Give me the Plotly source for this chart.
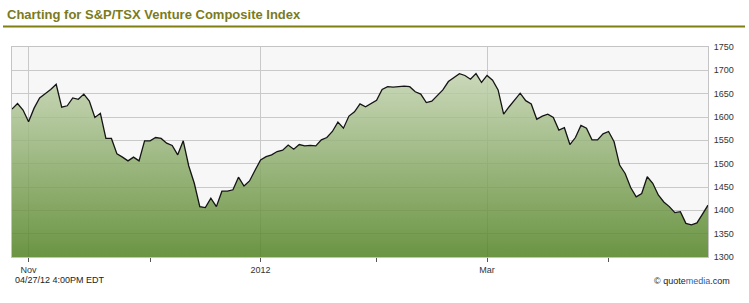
import pandas as pd
import plotly.graph_objects as go

# ---- data ----
holidays = ['2011-12-26', '2011-12-27', '2012-01-02', '2012-02-20', '2012-04-06']
dates = pd.bdate_range('2011-10-27', '2012-04-27', freq='C', holidays=holidays)

closes = [
    1617, 1629, 1615, 1590, 1619, 1641, 1650, 1659, 1670, 1621,
    1624, 1641, 1638, 1649, 1634, 1599, 1608, 1554, 1554, 1521,
    1514, 1506, 1514, 1506, 1549, 1549, 1556, 1554, 1544, 1539,
    1519, 1549, 1495, 1458, 1408, 1406, 1426, 1408, 1441, 1441,
    1444, 1471, 1452, 1463, 1486, 1508, 1515, 1519, 1526, 1529,
    1540, 1531, 1541, 1538, 1539, 1538, 1551, 1556, 1569, 1589,
    1576, 1602, 1611, 1628, 1622, 1629, 1636, 1659, 1665, 1664,
    1665, 1666, 1665, 1654, 1649, 1631, 1634, 1646, 1658, 1676,
    1684, 1693, 1689, 1681, 1693, 1674, 1689, 1679, 1658, 1606,
    1622, 1636, 1651, 1635, 1628, 1595, 1602, 1606, 1599, 1572,
    1577, 1541, 1556, 1582, 1576, 1551, 1551, 1564, 1569, 1547,
    1497, 1479, 1449, 1429, 1436, 1472, 1458, 1433, 1418, 1408,
    1395, 1397, 1372, 1369, 1373, 1392, 1411,
]

tick_months = ['2011-11', '2011-12', '2012-01', '2012-02', '2012-03', '2012-04']
tick_labels = ['Nov', '', '2012', '', 'Mar', '']
y_ticks = [1300, 1350, 1400, 1450, 1500, 1550, 1600, 1650, 1700, 1750]

title_text = 'Charting for S&P/TSX Venture Composite Index'
stamp_text = '04/27/12 4:00PM EDT'

# first trading day of each tick month
ser = pd.Series(dates, index=dates)
firsts = ser.groupby(dates.to_period('M')).first()
month_first = {str(p): d for p, d in firsts.items()}
major_vals = [month_first[m] for m, l in zip(tick_months, tick_labels) if l]
major_text = [l for l in tick_labels if l]
minor_vals = [month_first[m] for m, l in zip(tick_months, tick_labels) if not l]

fig = go.Figure()
fig.add_trace(go.Scatter(
    x=dates, y=closes[:len(dates)], mode='lines',
    line=dict(color='#141414', width=1.3),
    fill='tozeroy',
    fillgradient=dict(
        type='vertical', start=1300, stop=1750,
        colorscale=[[0, 'rgba(78,128,30,0.83)'], [1, 'rgba(210,222,194,0.83)']],
    ),
    hoverinfo='skip', showlegend=False,
))

fig.update_layout(
    width=749, height=303,
    margin=dict(l=12, r=41, t=47, b=46),
    paper_bgcolor='white', plot_bgcolor='#f7f7f7',
    font=dict(family='Liberation Sans, Arial, sans-serif', size=9, color='#333333'),
    title=dict(
        text='<b>' + title_text + '</b>',
        font=dict(family='Liberation Sans, Arial, sans-serif', size=13, color='#7b7b1c'),
        xref='container', yref='container', x=7 / 749, y=1 - 14 / 303,
        xanchor='left', yanchor='middle',
    ),
    xaxis=dict(
        type='date',
        range=[dates[0], dates[-1]],
        rangebreaks=[dict(bounds=['sat', 'mon']), dict(values=holidays)],
        tickmode='array', tickvals=major_vals, ticktext=major_text,
        ticks='outside', ticklen=4, tickcolor='#555555', tickwidth=1,
        showgrid=True, gridcolor='#c9c9c9', gridwidth=1,
        minor=dict(tickmode='array', tickvals=minor_vals, ticks='outside',
                   ticklen=4, tickcolor='#555555', showgrid=False),
        showline=True, linecolor='#c4c4c4', mirror=True,
        zeroline=False, tickfont=dict(size=9, color='#333333'),
    ),
    yaxis=dict(
        side='right', range=[1300, 1750],
        tickmode='array', tickvals=y_ticks,
        showgrid=True, gridcolor='#c9c9c9', gridwidth=1,
        showline=True, linecolor='#c4c4c4', mirror=True,
        zeroline=False, ticks='', ticklabelstandoff=3,
        tickfont=dict(size=9, color='#333333'),
    ),
    shapes=[dict(type='line', xref='paper', yref='paper',
                 x0=-9 / 696, x1=733 / 696, y0=(257 - 26.5) / 210, y1=(257 - 26.5) / 210,
                 line=dict(color='#7f7f12', width=2))],
    annotations=[
        dict(text=stamp_text, xref='paper', yref='paper', x=1 / 696, y=(257 - 280) / 210,
             xanchor='left', yanchor='middle', showarrow=False,
             font=dict(size=9, color='#222222')),
        dict(text="© quote<span style='color:#2a5db0'>media</span>.com",
             xref='paper', yref='paper', x=720 / 696, y=(257 - 281) / 210,
             xanchor='right', yanchor='middle', showarrow=False,
             font=dict(size=9, color='#222222')),
    ],
)

fig.write_html('out.html')
